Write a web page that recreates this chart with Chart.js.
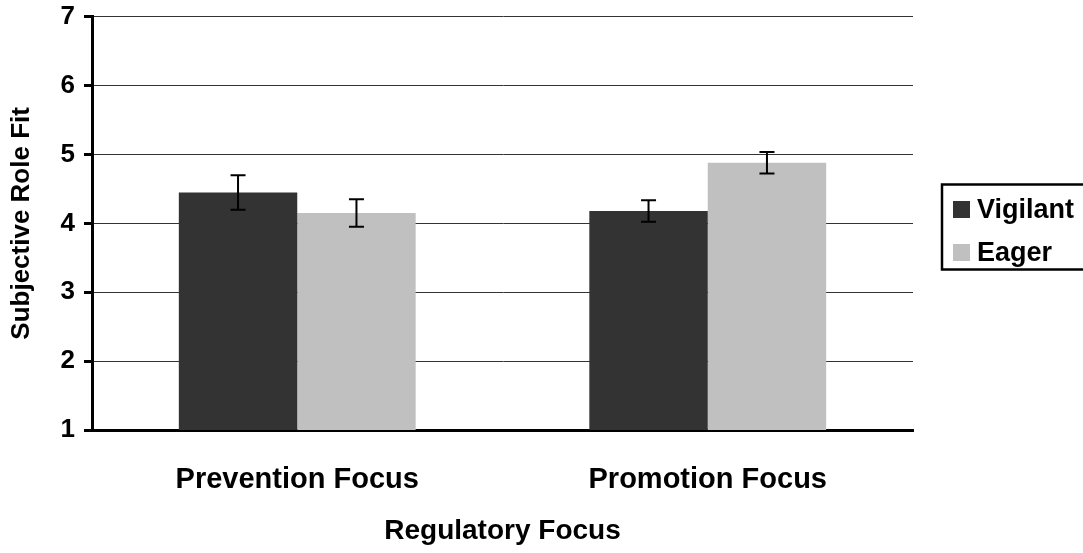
<!DOCTYPE html>
<html>
<head>
<meta charset="utf-8">
<script src="https://cdn.jsdelivr.net/npm/chart.js@4"></script>
<style>
  html, body { margin: 0; padding: 0; background: #fff; }
  #wrap { width: 1083px; height: 553px; }
</style>
</head>
<body>
<div id="wrap"><canvas id="chart"></canvas></div>
<script>
// datos del gráfico
const categories = ['Prevention Focus', 'Promotion Focus'];
const seriesNames = ['Vigilant', 'Eager'];
const vigilant = [4.45, 4.18];
const eager = [4.15, 4.88];
const vigilantErr = [0.25, 0.155];
const eagerErr = [0.2, 0.155];
const yTicks = [1, 2, 3, 4, 5, 6, 7];

const FONT = 'Liberation Sans, Arial, sans-serif';

// barras de error
const errorBars = {
    id: 'errorBars',
    afterDatasetsDraw(chart) {
        const ctx = chart.ctx;
        const y = chart.scales.y;
        ctx.save();
        ctx.strokeStyle = '#000';
        ctx.lineWidth = 2;
        chart.data.datasets.forEach((ds, di) => {
            const meta = chart.getDatasetMeta(di);
            meta.data.forEach((bar, i) => {
                const v = ds.data[i], e = ds.errors[i];
                const top = y.getPixelForValue(v + e);
                const bot = y.getPixelForValue(v - e);
                ctx.beginPath();
                ctx.moveTo(bar.x, top); ctx.lineTo(bar.x, bot);
                ctx.moveTo(bar.x - 7.5, top); ctx.lineTo(bar.x + 7.5, top);
                ctx.moveTo(bar.x - 7.5, bot); ctx.lineTo(bar.x + 7.5, bot);
                ctx.stroke();
            });
        });
        ctx.restore();
    }
};

// leyenda con borde
const boxLegend = {
    id: 'boxLegend',
    afterDraw(chart) {
        const ctx = chart.ctx;
        ctx.save();
        ctx.strokeStyle = '#000';
        ctx.lineWidth = 2.5;
        ctx.strokeRect(942, 184.5, 150, 85);
        ctx.font = 'bold 27px ' + FONT;
        ctx.textBaseline = 'middle';
        chart.data.datasets.forEach((ds, i) => {
            const cy = 209.5 + i * 43;
            ctx.fillStyle = ds.backgroundColor;
            ctx.fillRect(953, cy - 8.5, 17, 17);
            ctx.fillStyle = '#000';
            ctx.fillText(ds.label, 977, cy + 1);
        });
        ctx.restore();
    }
};

new Chart(document.getElementById('chart').getContext('2d'), {
    type: 'bar',
    data: {
        labels: categories,
        datasets: [
            { label: seriesNames[0], data: vigilant, errors: vigilantErr, backgroundColor: '#333333' },
            { label: seriesNames[1], data: eager, errors: eagerErr, backgroundColor: '#c0c0c0' }
        ]
    },
    options: {
        responsive: true,
        maintainAspectRatio: false,
        animation: false,
        layout: { padding: { top: 12.5, right: 170, bottom: 0, left: 0 } },
        datasets: { bar: { barPercentage: 1, categoryPercentage: 0.577 } },
        plugins: {
            legend: { display: false },
            tooltip: { enabled: false }
        },
        scales: {
            x: {
                grid: { display: false, drawTicks: false },
                border: { display: true, color: '#000', width: 3 },
                ticks: {
                    color: '#000',
                    padding: 33,
                    font: { family: FONT, size: 29, weight: 'bold' }
                },
                title: {
                    display: true,
                    text: 'Regulatory Focus',
                    color: '#000',
                    font: { family: FONT, size: 28, weight: 'bold', lineHeight: 1 },
                    padding: { top: 0, bottom: 8 }
                },
                afterFit: (scale) => { scale.height = 123; }
            },
            y: {
                min: 1,
                max: 7,
                afterBuildTicks: (scale) => { scale.ticks = yTicks.map(v => ({ value: v })); },
                grid: { color: '#333', lineWidth: 1, tickLength: 8, tickColor: '#000', tickWidth: 3 },
                border: { display: true, color: '#000', width: 3 },
                ticks: {
                    color: '#000',
                    padding: 9,
                    font: { family: FONT, size: 26, weight: 'bold', lineHeight: 0.6 }
                },
                title: {
                    display: true,
                    text: 'Subjective Role Fit',
                    color: '#000',
                    font: { family: FONT, size: 26, weight: 'bold', lineHeight: 1 },
                    padding: { top: 9, bottom: 0 }
                },
                afterFit: (scale) => { scale.width = 92; }
            }
        }
    },
    plugins: [errorBars, boxLegend]
});
</script>
</body>
</html>
